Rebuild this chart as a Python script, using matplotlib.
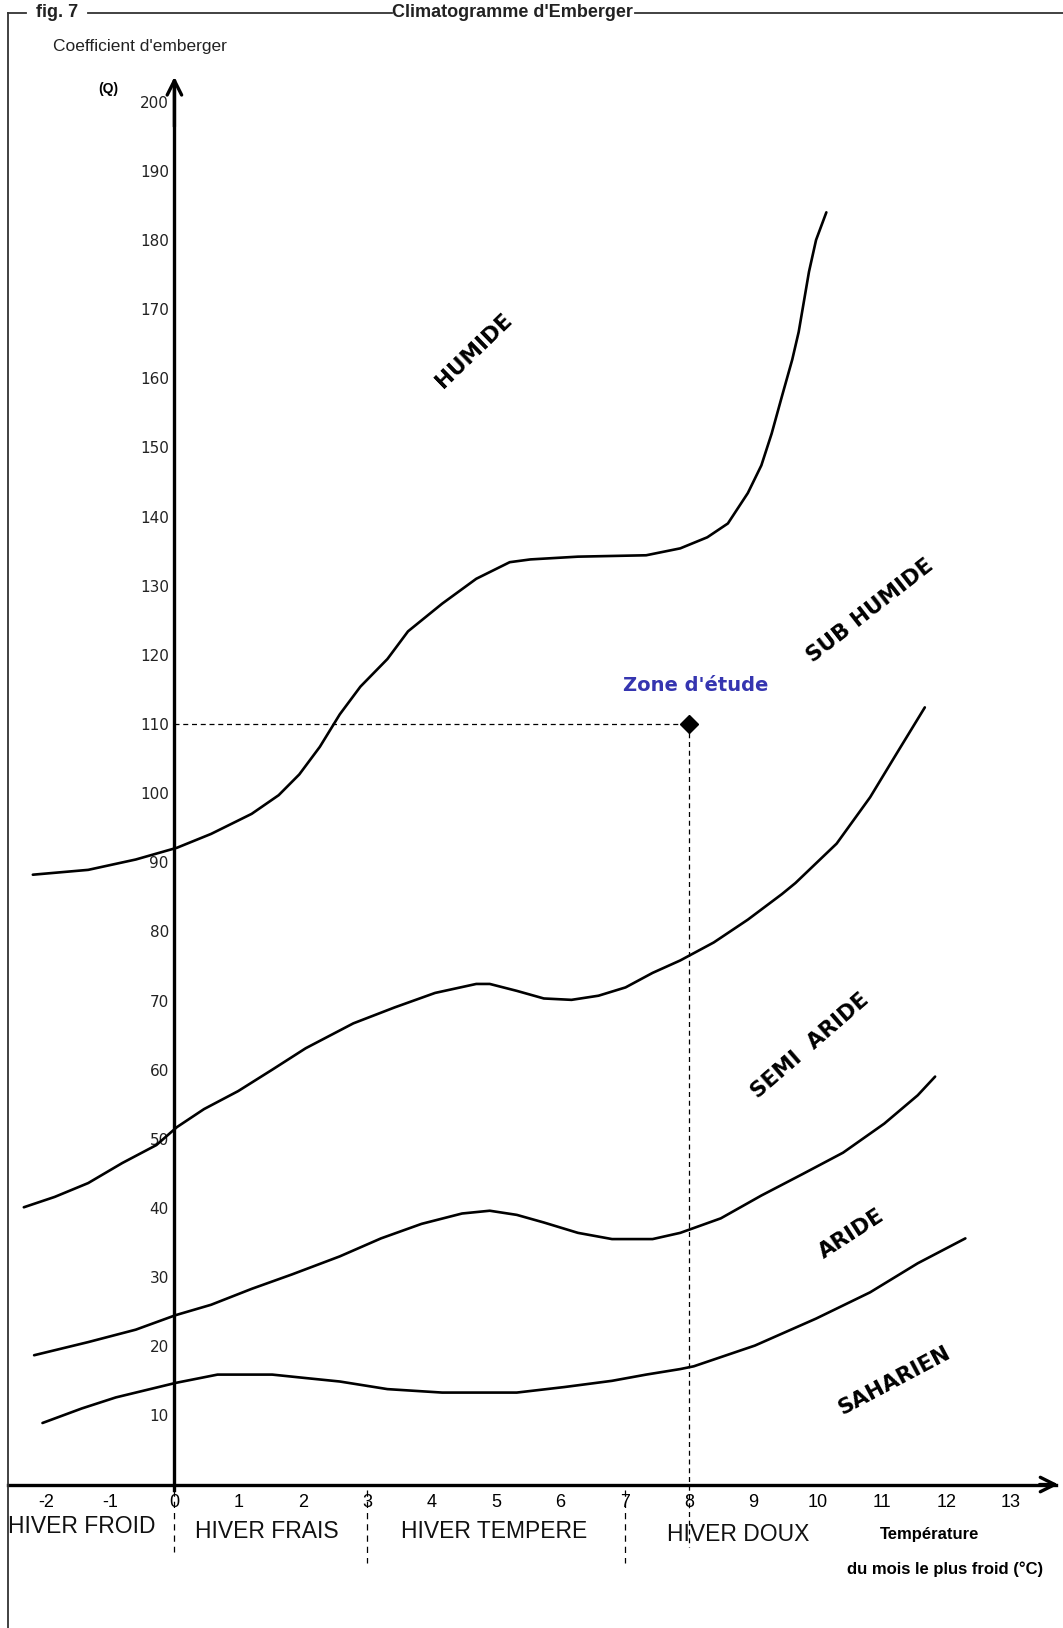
import matplotlib.pyplot as plt
from matplotlib import font_manager
from matplotlib.lines import Line2D

#region ----------------------- Data -------------------------
temp_ticks = list(range(-2, 14))
q_ticks = list(range(10, 210, 10))

# limite humide / sub humide
humide_t = [-2.20, -1.34, -0.60, 0.04, 0.57, 1.20, 1.62, 1.94, 2.26, 2.57, 2.89, 3.31, 3.63, 4.16,
            4.69, 5.21, 5.53, 6.27, 7.33, 7.86, 8.28, 8.60, 8.91, 9.12, 9.28, 9.44, 9.60, 9.70, 9.86,
            9.97, 10.13]
humide_q = [88.2, 88.9, 90.4, 92.1, 94.1, 97.0, 99.7, 102.7, 106.7, 111.4, 115.4, 119.4, 123.4, 127.4,
            131.0, 133.4, 133.8, 134.2, 134.4, 135.4, 137.0, 139.0, 143.4, 147.4, 152.0, 157.4, 162.7,
            166.7, 175.4, 180.0, 184.0]

# limite sub humide / semi aride
subhum_t = [-2.34, -1.86, -1.34, -0.81, -0.28, 0.04, 0.46, 0.99, 1.52, 2.04, 2.78, 3.42, 4.05, 4.69,
            4.90, 5.32, 5.74, 6.17, 6.59, 7.01, 7.43, 7.86, 8.38, 8.91, 9.44, 9.65, 10.29, 10.81,
            11.24, 11.66]
subhum_q = [40.1, 41.6, 43.6, 46.5, 49.1, 51.7, 54.3, 56.9, 60.0, 63.1, 66.7, 69.0, 71.1, 72.4,
            72.4, 71.4, 70.3, 70.1, 70.7, 71.9, 74.0, 75.8, 78.4, 81.7, 85.4, 87.0, 92.7, 99.4,
            106.0, 112.4]

# limite semi aride / aride
semi_t = [-2.18, -1.34, -0.60, 0.02, 0.57, 1.20, 1.83, 2.57, 3.21, 3.84, 4.47, 4.90, 5.32, 5.74,
          6.27, 6.80, 7.43, 7.86, 8.49, 9.12, 9.76, 10.39, 11.03, 11.55, 11.82]
semi_q = [18.7, 20.6, 22.4, 24.5, 26.0, 28.3, 30.4, 33.0, 35.6, 37.7, 39.2, 39.6, 39.0, 37.9,
          36.4, 35.5, 35.5, 36.4, 38.5, 41.8, 44.9, 48.0, 52.2, 56.3, 59.0]

# limite aride / saharien
aride_t = [-2.05, -1.44, -0.91, 0.02, 0.67, 1.52, 2.04, 2.57, 3.31, 4.16, 5.32, 6.06, 6.80, 7.33,
           7.86, 8.07, 9.02, 9.97, 10.81, 11.55, 12.29]
aride_q = [8.9, 11.0, 12.6, 14.7, 15.9, 15.9, 15.4, 14.9, 13.8, 13.3, 13.3, 14.1, 15.0, 15.9,
           16.7, 17.1, 20.1, 24.0, 27.8, 32.0, 35.6]

# zone d'etude
zone_t = 8
zone_q = 110

hivers = ["HIVER FROID", "HIVER FRAIS", "HIVER TEMPERE", "HIVER DOUX"]
hiver_limits = [0, 3, 7]
etages = ["HUMIDE", "SUB HUMIDE", "SEMI  ARIDE", "ARIDE", "SAHARIEN"]
#endregion

names = {f.name for f in font_manager.fontManager.ttflist}
narrow = 'Liberation Sans Narrow' if 'Liberation Sans Narrow' in names else 'Liberation Sans'
hiver_size = 19 if narrow == 'Liberation Sans Narrow' else 16.5

fig = plt.figure(figsize=(10.63, 16.28), dpi=100)
ax = fig.add_axes([0, 0, 1, 1])
ax.set_xlim(-2.710, 13.807)
ax.set_ylim(-20.75, 214.71)

# axes through origin
for s in ['top', 'right']:
    ax.spines[s].set_visible(False)
ax.spines['left'].set_position(('data', 0))
ax.spines['bottom'].set_position(('data', 0))
ax.spines['left'].set_bounds(-0.8, 203)
ax.spines['bottom'].set_bounds(-2.58, 13.7)
ax.spines['left'].set_linewidth(2.4)
ax.spines['bottom'].set_linewidth(2.4)
ax.set_xticks(temp_ticks)
ax.set_yticks(q_ticks)
ax.set_xticklabels([str(t) for t in temp_ticks], fontfamily=narrow, fontsize=13)
ax.set_yticklabels([str(q) for q in q_ticks], fontfamily='DejaVu Sans', fontsize=11, color='#222222')
ax.tick_params(axis='x', length=0, pad=7)
ax.tick_params(axis='y', length=0, pad=4)

ax.annotate('', xy=(0, 204), xytext=(0, 196),
            arrowprops=dict(arrowstyle='->', lw=2.4, mutation_scale=26, color='k'))
ax.annotate('', xy=(13.78, 0), xytext=(13.4, 0),
            arrowprops=dict(arrowstyle='->', lw=2.4, mutation_scale=26, color='k'))

# limites des etages
for t, q in [(humide_t, humide_q), (subhum_t, subhum_q), (semi_t, semi_q), (aride_t, aride_q)]:
    ax.plot(t, q, color='k', lw=1.9, solid_capstyle='round', solid_joinstyle='round')

# zone d'etude
ax.plot([0, zone_t], [zone_q, zone_q], color='k', lw=0.9, ls=(0, (4, 3)))
ax.plot([zone_t, zone_t], [zone_q, -9], color='k', lw=0.9, ls=(0, (4, 3)))
ax.plot(zone_t, zone_q, marker='D', ms=9, color='k')
ax.text(8.1, 115.6, "Zone d'étude", color='#3535b0', fontsize=14, fontweight='bold',
        fontfamily='DejaVu Sans', ha='center', va='center')

# noms des etages
etage_pos = [(4.65, 164.0, 44), (10.81, 126.4, 38), (9.87, 63.4, 41), (10.52, 36.3, 33), (11.19, 15.0, 28)]
for name, (t, q, rot) in zip(etages, etage_pos):
    ax.text(t, q, name, rotation=rot, rotation_mode='anchor', ha='center', va='center',
            fontsize=15.5, fontweight='bold', fontfamily='DejaVu Sans')

# types d'hiver
for t in hiver_limits:
    ax.plot([t, t], [-0.8, -9.8 if t == 0 else -11.3], color='k', lw=0.9, ls=(0, (5, 4)))
hiver_pos = [(-1.44, -6.0), (1.44, -6.8), (4.97, -6.8), (8.76, -7.2)]
for name, (t, q) in zip(hivers, hiver_pos):
    ax.text(t, q, name, ha='center', va='center', fontsize=hiver_size, fontfamily=narrow,
            color='#111111')

ax.text(11.73, -7.2, "Température", ha='center', va='center', fontsize=12,
        fontweight='bold', fontfamily=narrow)
ax.text(11.97, -12.3, "du mois le plus froid (°C)", ha='center', va='center', fontsize=12,
        fontweight='bold', fontfamily=narrow)

ax.text(-0.53, 208, "Coefficient d'emberger", ha='center', va='center', fontsize=12.5,
        fontfamily='Liberation Sans', color='#222222')
ax.text(-1.03, 201.8, "(Q)", ha='center', va='center', fontsize=10, fontweight='bold',
        fontfamily='Liberation Sans')

# cadre
ytop = 1 - 12.5 / 1628
xl = 8.3 / 1063
frame_col = '#333333'
fig.add_artist(Line2D([xl, xl], [0, ytop], color=frame_col, lw=1.3))
for x0, x1 in [(8.3, 26), (88, 392), (635, 1063)]:
    fig.add_artist(Line2D([x0 / 1063, x1 / 1063], [ytop, ytop], color=frame_col, lw=1.3))
fig.text(57 / 1063, ytop, "fig. 7", ha='center', va='center', fontsize=13, fontweight='bold',
         fontfamily=narrow, color='#222222')
fig.text(512 / 1063, ytop, "Climatogramme d'Emberger", ha='center', va='center', fontsize=13,
         fontweight='bold', fontfamily=narrow, color='#222222')

fig.savefig('out.png', dpi=100)
